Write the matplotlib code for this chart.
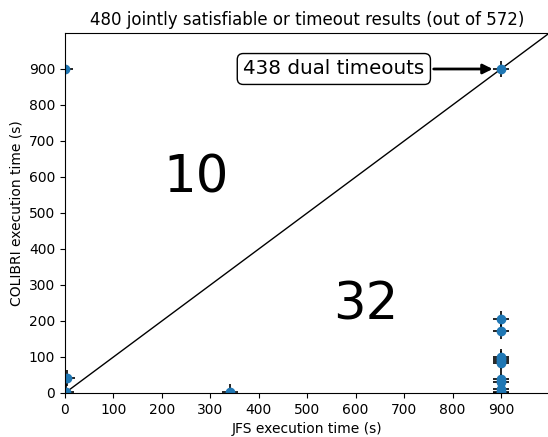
import matplotlib
matplotlib.use('Agg')
import matplotlib.pyplot as plt

# JFS / COLIBRI execution times (s)
jfs_times = [0, 3, 5, 340, 900, 900, 900, 900, 900, 900, 900, 900, 900, 900, 900, 900]
colibri_times = [900, 3, 42, 2, 900, 205, 173, 100, 95, 90, 84, 38, 30, 10, 4, 0]

count_above = 10
count_below = 32
dual_timeouts = 438

fig = plt.figure(figsize=(5.48, 4.37), dpi=100)
ax = fig.add_axes([0.1186, 0.1007, 0.884, 0.8238])

ax.plot([0, 1000], [0, 1000], color='black', linewidth=1)
ax.plot(jfs_times, colibri_times, '+', color='black', markersize=12, markeredgewidth=1.2)
ax.plot(jfs_times, colibri_times, 'o', color='tab:blue', markersize=6)

ax.text(270, 597, str(count_above), fontsize=37, ha='center', va='center')
ax.text(620, 244, str(count_below), fontsize=37, ha='center', va='center')

ax.annotate(f'{dual_timeouts} dual timeouts', xy=(900, 900), xytext=(555, 900),
            fontsize=14.3, ha='center', va='center',
            bbox=dict(boxstyle='round', fc='white', ec='black'),
            arrowprops=dict(arrowstyle='-|>', color='black', lw=2, shrinkB=6))

ax.set_xlim(0, 1000)
ax.set_ylim(0, 1000)
ax.set_xticks(range(0, 1000, 100))
ax.set_yticks(range(0, 1000, 100))
ax.set_xlabel('JFS execution time (s)')
ax.set_ylabel('COLIBRI execution time (s)')
ax.set_title('480 jointly satisfiable or timeout results (out of 572)')

fig.savefig('out.png', dpi=100)
